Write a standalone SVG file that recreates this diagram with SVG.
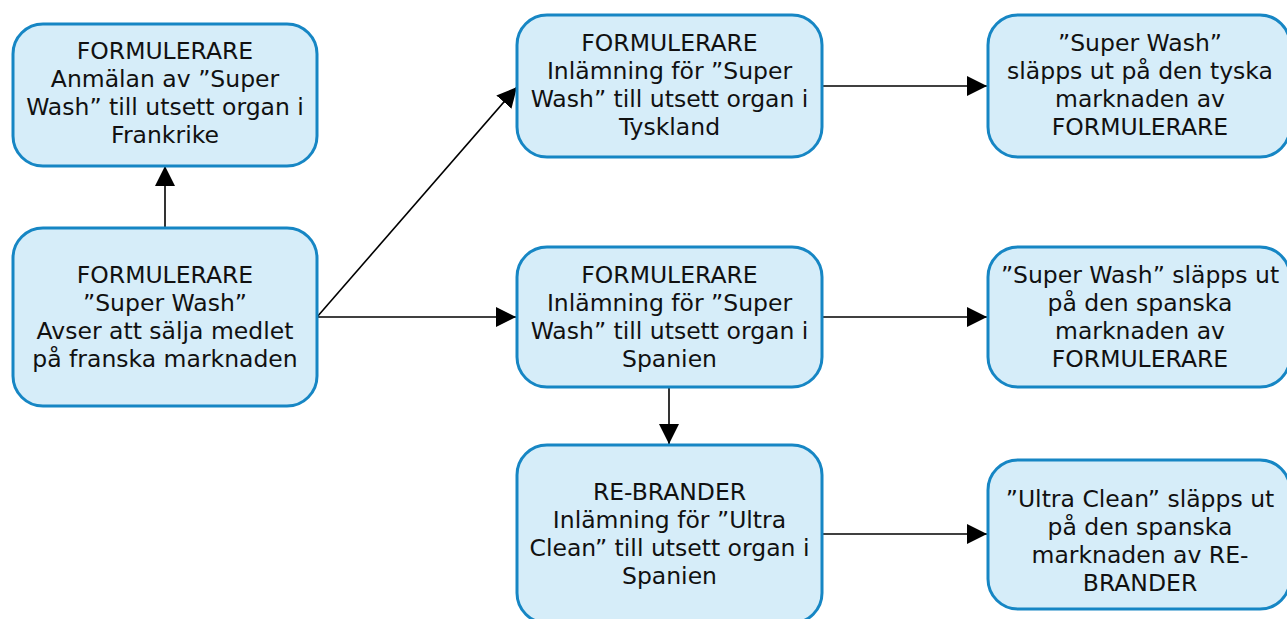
<svg xmlns="http://www.w3.org/2000/svg" width="1287" height="619" viewBox="0 0 1287 619">
  <style>
    .box { fill: #d6edf9; stroke: #1686c4; stroke-width: 3; }
    .lbl { font-family: "DejaVu Sans", Verdana, sans-serif; font-size: 23.5px; fill: #111; text-anchor: middle; }
    .edge { stroke: #000; stroke-width: 1.6; fill: none; marker-end: url(#arrow); }
  </style>
  <defs>
    <marker id="arrow" markerUnits="userSpaceOnUse" markerWidth="20" markerHeight="20" refX="20" refY="10" orient="auto">
      <path d="M0,0 L20,10 L0,20 z" fill="#000"/>
    </marker>
  </defs>
  <rect width="1287" height="619" fill="#fff"/>

  <g id="connectors">
    <line class="edge" x1="165" y1="228" x2="165" y2="166"/>
    <line class="edge" x1="317" y1="317" x2="517" y2="87"/>
    <line class="edge" x1="317" y1="317" x2="516" y2="317"/>
    <line class="edge" x1="822" y1="86" x2="987" y2="86"/>
    <line class="edge" x1="822" y1="317" x2="987" y2="317"/>
    <line class="edge" x1="669" y1="387" x2="669" y2="444"/>
    <line class="edge" x1="822" y1="534" x2="987" y2="534"/>
  </g>

  <g id="node-frankrike">
    <rect class="box" x="13" y="24" width="304" height="142" rx="30"/>
    <text class="lbl" x="165" y="59">FORMULERARE</text>
    <text class="lbl" x="165" y="87">Anmälan av ”Super</text>
    <text class="lbl" x="165" y="115">Wash” till utsett organ i</text>
    <text class="lbl" x="165" y="143">Frankrike</text>
  </g>

  <g id="node-start">
    <rect class="box" x="13" y="228" width="304" height="178" rx="30"/>
    <text class="lbl" x="165" y="283">FORMULERARE</text>
    <text class="lbl" x="165" y="311">”Super Wash”</text>
    <text class="lbl" x="165" y="339">Avser att sälja medlet</text>
    <text class="lbl" x="165" y="367">på franska marknaden</text>
  </g>

  <g id="node-tyskland">
    <rect class="box" x="517" y="15" width="305" height="142" rx="30"/>
    <text class="lbl" x="669.5" y="51">FORMULERARE</text>
    <text class="lbl" x="669.5" y="79">Inlämning för ”Super</text>
    <text class="lbl" x="669.5" y="107">Wash” till utsett organ i</text>
    <text class="lbl" x="669.5" y="135">Tyskland</text>
  </g>

  <g id="node-tyska-marknaden">
    <rect class="box" x="988" y="15" width="302" height="142" rx="30"/>
    <text class="lbl" x="1140" y="51">”Super Wash”</text>
    <text class="lbl" x="1140" y="79">släpps ut på den tyska</text>
    <text class="lbl" x="1140" y="107">marknaden av</text>
    <text class="lbl" x="1140" y="135">FORMULERARE</text>
  </g>

  <g id="node-spanien">
    <rect class="box" x="517" y="247" width="305" height="140" rx="30"/>
    <text class="lbl" x="669.5" y="283">FORMULERARE</text>
    <text class="lbl" x="669.5" y="311">Inlämning för ”Super</text>
    <text class="lbl" x="669.5" y="339">Wash” till utsett organ i</text>
    <text class="lbl" x="669.5" y="367">Spanien</text>
  </g>

  <g id="node-spanska-marknaden">
    <rect class="box" x="988" y="247" width="302" height="140" rx="30"/>
    <text class="lbl" x="1140" y="283">”Super Wash” släpps ut</text>
    <text class="lbl" x="1140" y="311">på den spanska</text>
    <text class="lbl" x="1140" y="339">marknaden av</text>
    <text class="lbl" x="1140" y="367">FORMULERARE</text>
  </g>

  <g id="node-rebrander">
    <rect class="box" x="517" y="445" width="305" height="178" rx="30"/>
    <text class="lbl" x="669.5" y="500">RE-BRANDER</text>
    <text class="lbl" x="669.5" y="528">Inlämning för ”Ultra</text>
    <text class="lbl" x="669.5" y="556">Clean” till utsett organ i</text>
    <text class="lbl" x="669.5" y="584">Spanien</text>
  </g>

  <g id="node-ultra-clean">
    <rect class="box" x="988" y="460" width="302" height="149" rx="30"/>
    <text class="lbl" x="1140" y="507">”Ultra Clean” släpps ut</text>
    <text class="lbl" x="1140" y="535">på den spanska</text>
    <text class="lbl" x="1140" y="563">marknaden av RE-</text>
    <text class="lbl" x="1140" y="591">BRANDER</text>
  </g>
</svg>
